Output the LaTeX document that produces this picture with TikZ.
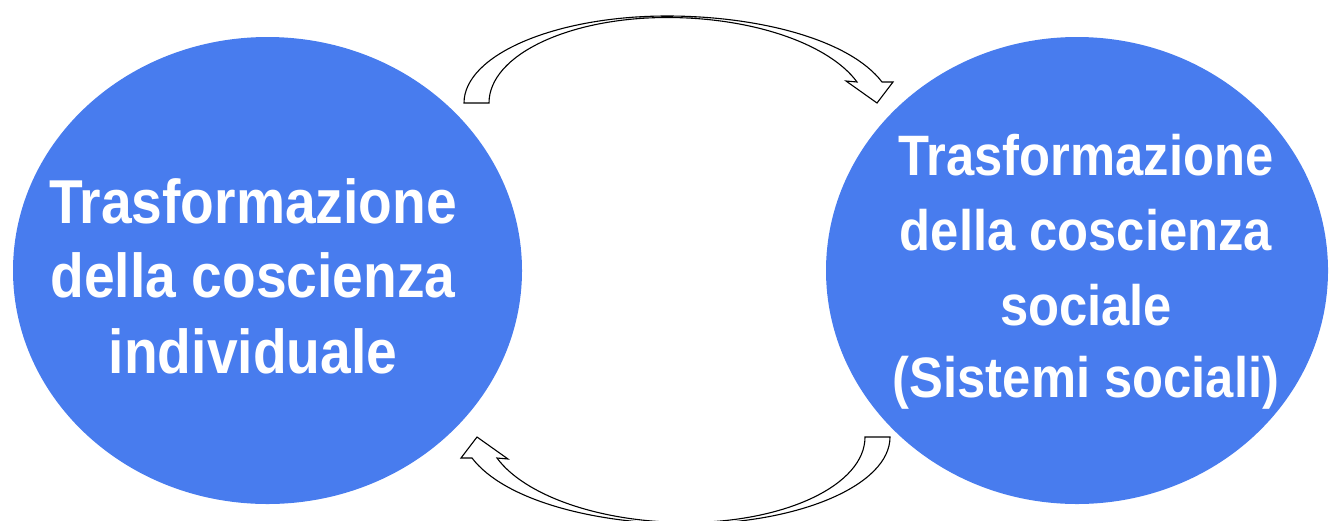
\documentclass[tikz,border=0pt]{standalone}
\usepackage{fontspec}
\usetikzlibrary{shapes.geometric}
\newfontfamily\labfont{Liberation Sans}[FakeStretch=0.89]
\definecolor{blobc}{RGB}{72,124,238}
\begin{document}
\begin{tikzpicture}[x=1pt,y=-1pt,
  blob/.style={ellipse, fill=blobc, draw=none, inner sep=0pt},
  labL/.style={text=white, anchor=base, inner sep=0pt, font=\labfont\bfseries\fontsize{62}{74}\selectfont},
  labR/.style={text=white, anchor=base, inner sep=0pt, font=\labfont\bfseries\fontsize{57}{70}\selectfont},
  barrow/.style={draw=black, fill=white, line width=1.1pt, line join=miter}]
\useasboundingbox (0,0) rectangle (1329,520);
\clip (0,0) rectangle (1329,520);
\node[blob, minimum width=509pt, minimum height=467pt] (L) at (267.5,270.5) {};
\node[blob, minimum width=502pt, minimum height=467pt] (R) at (1077,270.5) {};
% left text
\node[labL] (l1) at (253,223) {Trasformazione};
\node[labL] (l2) at (253,297) {della coscienza};
\node[labL] (l3) at (253,373) {individuale};
% right text
\node[labR] (r1) at (1086,175) {Trasformazione};
\node[labR] (r2) at (1086,250) {della coscienza};
\node[labR] (r3) at (1086,325) {sociale};
\node[labR] (r4) at (1086,397) {(Sistemi sociali)};
% top curved arrow
\draw[barrow] (464,103) .. controls (464,55) and (555,16) .. (667,16)
  .. controls (760,16) and (850,40) .. (882,82) -- (893,82) -- (877,103) -- (846,81) -- (857,82)
  .. controls (830,45) and (755,17.5) .. (667,17.5)
  .. controls (569,17.5) and (489,55) .. (489,103) -- cycle;
% bottom curved arrow
\begin{scope}[rotate around={180:(677,270)}]
\draw[barrow] (464,103) .. controls (464,55) and (555,16) .. (667,16)
  .. controls (760,16) and (850,40) .. (882,82) -- (893,82) -- (877,103) -- (846,81) -- (857,82)
  .. controls (830,45) and (755,17.5) .. (667,17.5)
  .. controls (569,17.5) and (489,55) .. (489,103) -- cycle;
\end{scope}
\end{tikzpicture}
\end{document}
